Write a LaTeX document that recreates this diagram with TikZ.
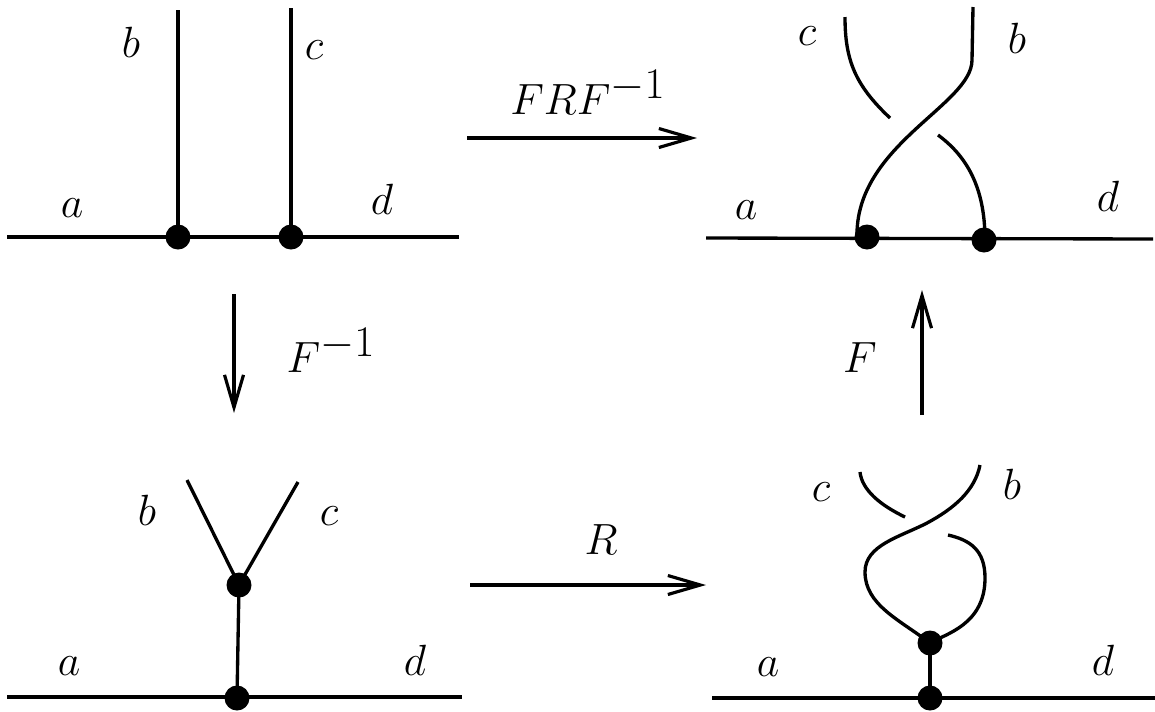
\documentclass[tikz,border=0pt]{standalone}
\usetikzlibrary{arrows.meta}
\tikzset{
  strand/.style={line width=1.9pt},
  dot/.style={circle, fill=black, inner sep=0pt, minimum size=5mm},
  lbl/.style={inner sep=0pt, font=\fontsize{33}{40}\selectfont},
  maparrow/.style={line width=1.8pt, -{Straight Barb[length=6.5mm, width=3.8mm, line width=1.8pt]}}
}

\begin{document}
\begin{tikzpicture}[x=0.02cm, y=-0.02cm]
  \useasboundingbox (0,0) rectangle (1155,711);

  % top left: two legs on the line
  \node[dot] (tlp) at (178,237) {};
  \node[dot] (tlq) at (291,237) {};
  \coordinate (tlL) at (7,237);
  \coordinate (tlR) at (459,237);
  \coordinate (tlb) at (178,10);
  \coordinate (tlc) at (291,8);
  \draw[strand] (tlL) -- (tlR);
  \draw[strand] (tlp.center) -- (tlb);
  \draw[strand] (tlq.center) -- (tlc);
  \node[lbl] (tlbl) at (131,42) {$b$};
  \node[lbl] (tlcl) at (314,50) {$c$};
  \node[lbl] (tlal) at (72,208) {$a$};
  \node[lbl] (tldl) at (382,199) {$d$};

  % top right: crossed legs
  \coordinate (trL) at (706,238);
  \coordinate (trR) at (1153,239);
  \draw[strand] (trL) -- (trR);
  \coordinate (trp) at (857,237);
  \coordinate (trq) at (985,240);
  \draw[strand] (trp) .. controls (855,145) and (972,105) .. (972,60) -- (973,7);
  \draw[strand] (trq) .. controls (985,185) and (965,155) .. (938,135);
  \draw[strand] (890,118) .. controls (855,85) and (845,60) .. (845,17);
  \node[dot] (trpd) at (867,237) {};
  \node[dot] (trqd) at (984,240) {};
  \node[lbl] (trcl) at (807,36) {$c$};
  \node[lbl] (trbl) at (1017,38) {$b$};
  \node[lbl] (tral) at (746,210) {$a$};
  \node[lbl] (trdl) at (1108,196) {$d$};

  % bottom left: Y vertex
  \node[dot] (blu) at (239,585) {};
  \node[dot] (bll) at (237,698) {};
  \coordinate (blL) at (7,697);
  \coordinate (blR) at (462,697);
  \coordinate (blb) at (187,480);
  \coordinate (blc) at (298,482);
  \draw[strand] (blL) -- (blR);
  \draw[strand] (blu.center) -- (bll.center);
  \draw[strand] (blu.center) -- (blb);
  \draw[strand] (blu.center) -- (blc);
  \node[lbl] (blbl) at (147,510) {$b$};
  \node[lbl] (blcl) at (329,516) {$c$};
  \node[lbl] (blal) at (69,666) {$a$};
  \node[lbl] (bldl) at (415,660) {$d$};

  % bottom right: twisted loop
  \coordinate (brL) at (712,698);
  \coordinate (brR) at (1155,698);
  \draw[strand] (brL) -- (brR);
  \coordinate (bru) at (930,643);
  \coordinate (brl) at (930,698);
  \draw[strand] (bru) -- (brl);
  \draw[strand] (bru) .. controls (900,620) and (865,605) .. (865,572)
    .. controls (865,545) and (900,537) .. (927,523)
    .. controls (955,508) and (975,490) .. (980,465);
  \draw[strand] (bru) .. controls (945,634) and (985,625) .. (985,578)
    .. controls (985,550) and (970,540) .. (948,535);
  \draw[strand] (905,517) .. controls (880,505) and (862,490) .. (860,472);
  \node[dot] (brud) at (930,643) {};
  \node[dot] (brld) at (930,698) {};
  \node[lbl] (brcl) at (821,492) {$c$};
  \node[lbl] (brbl) at (1012,484) {$b$};
  \node[lbl] (bral) at (768,667) {$a$};
  \node[lbl] (brdl) at (1103,660) {$d$};

  % maps between the pictures
  \coordinate (topA) at (467,138);
  \coordinate (topB) at (697,138);
  \coordinate (leftA) at (234,294);
  \coordinate (leftB) at (234,413);
  \coordinate (rightA) at (922,415);
  \coordinate (rightB) at (922,290);
  \coordinate (botA) at (470,585);
  \coordinate (botB) at (706,585);
  \draw[maparrow] (topA) -- (topB);
  \draw[maparrow] (leftA) -- (leftB);
  \draw[maparrow] (rightA) -- (rightB);
  \draw[maparrow] (botA) -- (botB);
  \node[lbl] (frf) at (588,92) {$FRF^{-1}$};
  \node[lbl] (finv) at (331,350) {$F^{-1}$};
  \node[lbl] (f) at (860,358) {$F$};
  \node[lbl] (r) at (601,540) {$R$};
\end{tikzpicture}
\end{document}
